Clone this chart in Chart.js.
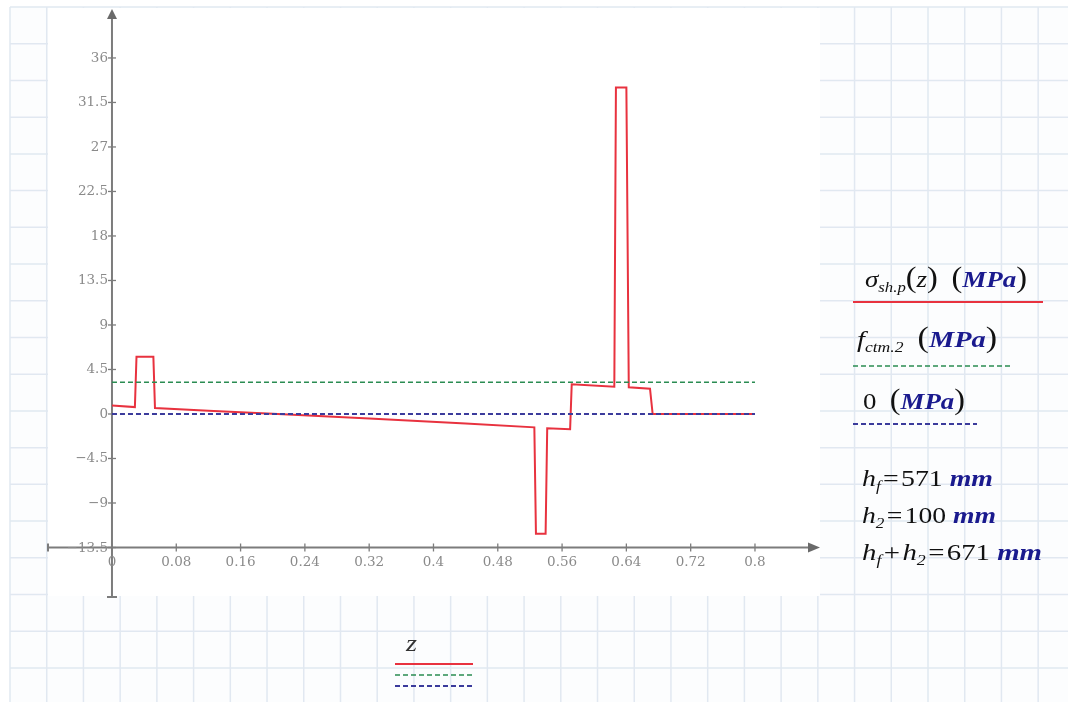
<!DOCTYPE html>
<html><head><meta charset="utf-8">
<script src="https://cdn.jsdelivr.net/npm/chart.js@4.4.1/dist/chart.umd.min.js"></script>
<style>
html,body{margin:0;padding:0;background:#fff;}
#wrap{position:relative;width:1068px;height:702px;overflow:hidden;}
#c{position:absolute;left:0;top:0;}
.t{position:absolute;font-family:"Liberation Serif","Times New Roman",serif;font-size:24px;line-height:1;color:#111;white-space:nowrap;transform-origin:0 0;}
.i{font-style:italic;}
.u{font-style:italic;font-weight:bold;color:#1a1a8e;}
.s{font-size:0.62em;font-style:italic;vertical-align:-0.34em;line-height:0;}
.p{font-size:1.2em;line-height:0;}
</style></head>
<body>
<div id="wrap">
<canvas id="c" width="1068" height="702"></canvas>
<div class="t" data-w="162" style="left:865px;top:266.9px"><span class="i">σ</span><span class="s">sh.p</span><span class="p">(</span><span class="i">z</span><span class="p">)</span>&nbsp;&nbsp;<span class="p">(</span><span class="u">MPa</span><span class="p">)</span></div>
<div class="t" data-w="140" style="left:857px;top:326.9px"><span class="i">f</span><span class="s">ctm.2</span>&nbsp;&nbsp;<span class="p">(</span><span class="u">MPa</span><span class="p">)</span></div>
<div class="t" data-w="102" style="left:863px;top:388.9px">0&nbsp;&nbsp;<span class="p">(</span><span class="u">MPa</span><span class="p">)</span></div>
<div class="t" data-w="131" style="left:862px;top:465.9px"><span class="i">h</span><span class="s">f</span>&#8202;=&#8202;571&nbsp;<span class="u">mm</span></div>
<div class="t" data-w="134" style="left:862px;top:502.9px"><span class="i">h</span><span class="s">2</span>&#8202;=&#8202;100&nbsp;<span class="u">mm</span></div>
<div class="t" data-w="180" style="left:862px;top:539.9px"><span class="i">h</span><span class="s">f</span>&#8202;+&#8202;<span class="i">h</span><span class="s">2</span>&#8202;=&#8202;671&nbsp;<span class="u">mm</span></div>
<div class="t" data-w="11" style="left:406px;top:630.9px;color:#333"><span class="i">z</span></div>
</div>
<script>
// ---- data ----
const zValues     = [0, 0.0285, 0.0305, 0.0515, 0.0535, 0.12, 0.2, 0.32, 0.44, 0.5255, 0.5275, 0.5395, 0.5415, 0.5700, 0.5720, 0.6250, 0.6270, 0.6400, 0.6430, 0.6694, 0.6727, 0.8];
const sigmaValues = [0.85, 0.7, 5.8, 5.8, 0.6, 0.32, 0.02, -0.45, -0.95, -1.35, -12.1, -12.1, -1.45, -1.55, 3.0, 2.75, 33.0, 33.0, 2.7, 2.55, 0, 0];
const refZ = [0, 0.8];
const fctmValues = [3.2, 3.2];
const zeroValues = [0, 0];
const xTicks = [0, 0.08, 0.16, 0.24, 0.32, 0.4, 0.48, 0.56, 0.64, 0.72, 0.8];
const xTickLabels = ['0', '0.08', '0.16', '0.24', '0.32', '0.4', '0.48', '0.56', '0.64', '0.72', '0.8'];
const yTicks = [-13.5, -9, -4.5, 0, 4.5, 9, 13.5, 18, 22.5, 27, 31.5, 36];
const yTickLabels = ['\u221213.5', '\u22129', '\u22124.5', '0', '4.5', '9', '13.5', '18', '22.5', '27', '31.5', '36'];
const xAxisAt = -13.5;
const yAxisAt = 0;

// fit legend text widths
document.querySelectorAll('.t').forEach(el => {
  const w = parseFloat(el.dataset.w);
  const cur = el.getBoundingClientRect().width;
  if (cur > 0) el.style.transform = 'scaleX(' + (w / cur) + ')';
});

const pts = (xs, ys) => xs.map((x, i) => ({x: x, y: ys[i]}));

const paperPlugin = {
  id: 'paper',
  beforeDraw(chart) {
    const ctx = chart.ctx;
    ctx.save();
    ctx.fillStyle = '#ffffff';
    ctx.fillRect(0, 0, 1068, 702);
    ctx.fillStyle = '#fcfdfe';
    ctx.fillRect(10, 7, 1058, 695);
    ctx.strokeStyle = '#e1e8f1';
    ctx.lineWidth = 1.5;
    const step = 36.72;
    for (let x = 10; x < 1070; x += step) {
      ctx.beginPath(); ctx.moveTo(x, 7); ctx.lineTo(x, 702); ctx.stroke();
    }
    for (let y = 7; y < 705; y += step) {
      ctx.beginPath(); ctx.moveTo(10, y); ctx.lineTo(1068, y); ctx.stroke();
    }
    ctx.fillStyle = '#ffffff';
    ctx.fillRect(48, 8, 772, 588);
    ctx.restore();
  },
  beforeDatasetsDraw(chart) {
    const ctx = chart.ctx;
    const xs = chart.scales.x, ys = chart.scales.y, a = chart.chartArea;
    const x0 = xs.getPixelForValue(yAxisAt);
    const y0 = ys.getPixelForValue(xAxisAt);
    ctx.save();
    ctx.strokeStyle = '#7c7c7c';
    ctx.fillStyle = '#6a6a6a';
    ctx.lineWidth = 2;
    // y axis
    ctx.beginPath(); ctx.moveTo(x0, a.top + 9); ctx.lineTo(x0, a.bottom); ctx.stroke();
    ctx.beginPath(); ctx.moveTo(x0 - 5, a.bottom); ctx.lineTo(x0 + 5, a.bottom); ctx.stroke();
    ctx.beginPath(); ctx.moveTo(x0, a.top); ctx.lineTo(x0 - 5, a.top + 10); ctx.lineTo(x0 + 5, a.top + 10); ctx.closePath(); ctx.fill();
    // x axis
    ctx.beginPath(); ctx.moveTo(a.left, y0); ctx.lineTo(a.right - 11, y0); ctx.stroke();
    ctx.beginPath(); ctx.moveTo(a.left, y0 - 4); ctx.lineTo(a.left, y0 + 4); ctx.stroke();
    ctx.beginPath(); ctx.moveTo(a.right, y0); ctx.lineTo(a.right - 12, y0 - 5); ctx.lineTo(a.right - 12, y0 + 5); ctx.closePath(); ctx.fill();
    // ticks
    ctx.lineWidth = 1.3;
    ctx.font = '13.5px "DejaVu Serif", serif';
    ctx.fillStyle = '#8a8a8a';
    ctx.textAlign = 'right'; ctx.textBaseline = 'middle';
    yTicks.forEach((v, i) => {
      const y = ys.getPixelForValue(v);
      ctx.beginPath(); ctx.moveTo(x0 - 4, y); ctx.lineTo(x0 + 4, y); ctx.stroke();
      ctx.fillText(yTickLabels[i], x0 - 4, y + 0.5);
    });
    ctx.textAlign = 'center'; ctx.textBaseline = 'middle';
    xTicks.forEach((v, i) => {
      const x = xs.getPixelForValue(v);
      ctx.beginPath(); ctx.moveTo(x, y0 - 4); ctx.lineTo(x, y0 + 4); ctx.stroke();
      ctx.fillText(xTickLabels[i], x, y0 + 14.5);
    });
    ctx.restore();
  },
  afterDraw(chart) {
    const ctx = chart.ctx;
    const line = (x1, x2, y, color, w, dash) => {
      ctx.save();
      ctx.strokeStyle = color; ctx.lineWidth = w; ctx.setLineDash(dash || []);
      ctx.beginPath(); ctx.moveTo(x1, y); ctx.lineTo(x2, y); ctx.stroke();
      ctx.restore();
    };
    line(853, 1043, 302, '#e8323f', 2);
    line(853, 1011, 366, '#2a8c52', 1.5, [5, 3]);
    line(853, 977, 424, '#3b3b9c', 1.8, [5, 3]);
    line(395, 473, 664, '#e8323f', 2);
    line(395, 473, 675, '#2a8c52', 1.5, [5, 3]);
    line(395, 473, 686, '#3b3b9c', 1.8, [5, 3]);
  }
};

new Chart(document.getElementById('c'), {
  type: 'scatter',
  data: {
    datasets: [
      {label: 'sigma', data: pts(zValues, sigmaValues), showLine: true, borderColor: '#e8323f', borderWidth: 2, pointRadius: 0, tension: 0, order: 3},
      {label: 'fctm', data: pts(refZ, fctmValues), showLine: true, borderColor: '#2a8c52', borderWidth: 1.5, borderDash: [5, 3], pointRadius: 0, order: 2},
      {label: 'zero', data: pts(refZ, zeroValues), showLine: true, borderColor: '#3b3b9c', borderWidth: 1.8, borderDash: [5, 3], pointRadius: 0, order: 1}
    ]
  },
  options: {
    responsive: false,
    animation: false,
    devicePixelRatio: 1,
    layout: {padding: {left: 48, right: 248, top: 9, bottom: 105}},
    plugins: {legend: {display: false}, tooltip: {enabled: false}},
    scales: {
      x: {type: 'linear', min: -0.0796, max: 0.8809, display: false},
      y: {type: 'linear', min: -18.505, max: 40.95, display: false}
    }
  },
  plugins: [paperPlugin]
});
</script>
</body></html>
